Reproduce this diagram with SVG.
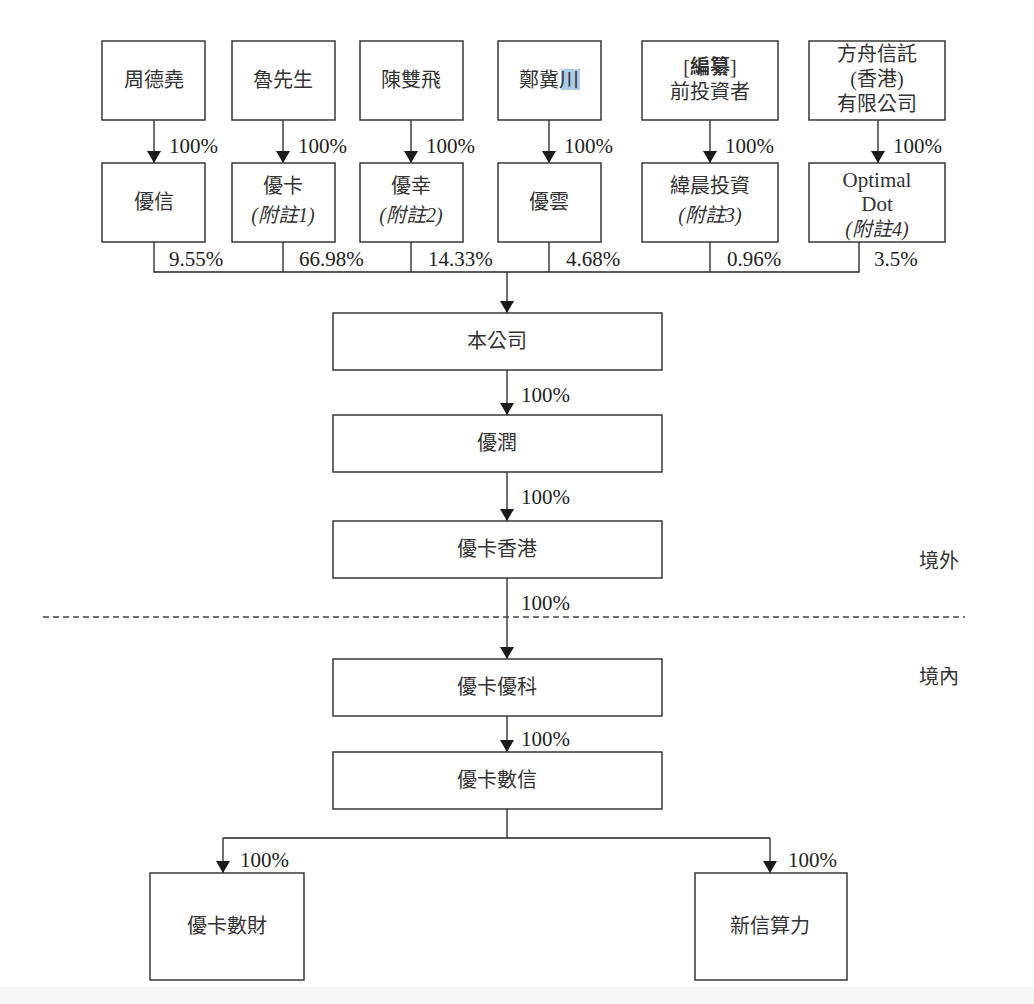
<svg xmlns="http://www.w3.org/2000/svg" width="1034" height="1004" viewBox="0 0 1034 1004">
<style>
.box{fill:#fff;stroke:#2a2a2a;stroke-width:1.4}
.ln{fill:none;stroke:#222;stroke-width:1.3}
.t{font-family:"Liberation Serif","Noto Sans CJK TC",serif;font-size:20px;fill:#333;text-anchor:middle}
.p{font-family:"Liberation Serif","Noto Sans CJK TC",serif;font-size:21px;fill:#222}
.i{font-style:italic}
.lat{font-size:21px}
</style>
<defs>
<marker id="ah" viewBox="0 0 12 14" refX="12" refY="7" markerWidth="12" markerHeight="14" markerUnits="userSpaceOnUse" orient="auto">
<path d="M0,0 L12,7 L0,14 z" fill="#1a1a1a"/>
</marker>
</defs>
<rect x="0" y="0" width="1034" height="1004" fill="#fff"/>
<rect x="0" y="987" width="1034" height="17" fill="#f7f7f7"/>

<g id="connectors">
<line class="ln" x1="154" y1="120" x2="154" y2="163" marker-end="url(#ah)"/>
<line class="ln" x1="283" y1="120" x2="283" y2="163" marker-end="url(#ah)"/>
<line class="ln" x1="411" y1="120" x2="411" y2="163" marker-end="url(#ah)"/>
<line class="ln" x1="549" y1="120" x2="549" y2="163" marker-end="url(#ah)"/>
<line class="ln" x1="710" y1="120" x2="710" y2="163" marker-end="url(#ah)"/>
<line class="ln" x1="878" y1="120" x2="878" y2="163" marker-end="url(#ah)"/>
<path class="ln" d="M154,242 V272 H859 V242 M283,242 V272 M411,242 V272 M549,242 V272 M710,242 V272"/>
<line class="ln" x1="507" y1="272" x2="507" y2="313" marker-end="url(#ah)"/>
<line class="ln" x1="507" y1="370" x2="507" y2="415" marker-end="url(#ah)"/>
<line class="ln" x1="507" y1="472" x2="507" y2="521" marker-end="url(#ah)"/>
<line class="ln" x1="507" y1="578" x2="507" y2="659" marker-end="url(#ah)"/>
<line class="ln" x1="507" y1="716" x2="507" y2="752" marker-end="url(#ah)"/>
<path class="ln" d="M507,809 V838 M223,838 H770"/>
<line class="ln" x1="223" y1="838" x2="223" y2="873" marker-end="url(#ah)"/>
<line class="ln" x1="770" y1="838" x2="770" y2="873" marker-end="url(#ah)"/>
<line x1="43" y1="617" x2="965" y2="617" stroke="#444" stroke-width="1.3" stroke-dasharray="6,4"/>
<text class="p" x="169" y="153">100%</text>
<text class="p" x="298" y="153">100%</text>
<text class="p" x="426" y="153">100%</text>
<text class="p" x="564" y="153">100%</text>
<text class="p" x="725" y="153">100%</text>
<text class="p" x="893" y="153">100%</text>
<text class="p" x="169" y="266">9.55%</text>
<text class="p" x="299" y="266">66.98%</text>
<text class="p" x="428" y="266">14.33%</text>
<text class="p" x="566" y="266">4.68%</text>
<text class="p" x="727" y="266">0.96%</text>
<text class="p" x="874" y="266">3.5%</text>
<text class="p" x="521" y="402">100%</text>
<text class="p" x="521" y="504">100%</text>
<text class="p" x="521" y="610">100%</text>
<text class="p" x="521" y="746">100%</text>
<text class="p" x="240" y="867">100%</text>
<text class="p" x="788" y="867">100%</text>
</g>

<g id="n-zhou"><rect class="box" x="102" y="41" width="103" height="79"/><text class="t" x="154" y="87">周德堯</text></g>
<g id="n-lu"><rect class="box" x="232" y="41" width="103" height="79"/><text class="t" x="283" y="87">魯先生</text></g>
<g id="n-chen"><rect class="box" x="360" y="41" width="103" height="79"/><text class="t" x="411" y="87">陳雙飛</text></g>
<g id="n-zheng"><rect class="box" x="498" y="41" width="103" height="79"/><rect x="561" y="69" width="19" height="21" fill="#a9cde6"/><text class="t" x="549" y="87">鄭冀川</text></g>
<g id="n-pre"><rect class="box" x="642" y="41" width="136" height="79"/><text class="t" x="710" y="74">[<tspan font-weight="bold">編纂</tspan>]</text><text class="t" x="710" y="99">前投資者</text></g>
<g id="n-ark"><rect class="box" x="809" y="41" width="136" height="79"/><text class="t" x="877" y="61">方舟信託</text><text class="t" x="877" y="86">(香港)</text><text class="t" x="877" y="111">有限公司</text></g>

<g id="n-youxin"><rect class="box" x="102" y="163" width="103" height="79"/><text class="t" x="154" y="209">優信</text></g>
<g id="n-youka"><rect class="box" x="232" y="163" width="103" height="79"/><text class="t" x="283" y="193">優卡</text><text class="t i" x="283" y="222">(附註1)</text></g>
<g id="n-youxing"><rect class="box" x="360" y="163" width="103" height="79"/><text class="t" x="411" y="193">優幸</text><text class="t i" x="411" y="222">(附註2)</text></g>
<g id="n-youyun"><rect class="box" x="498" y="163" width="103" height="79"/><text class="t" x="549" y="209">優雲</text></g>
<g id="n-weichen"><rect class="box" x="642" y="163" width="136" height="79"/><text class="t" x="710" y="193">緯晨投資</text><text class="t i" x="710" y="222">(附註3)</text></g>
<g id="n-optimal"><rect class="box" x="809" y="163" width="136" height="79"/><text class="t lat" x="877" y="187">Optimal</text><text class="t lat" x="877" y="211">Dot</text><text class="t i" x="877" y="236">(附註4)</text></g>

<g id="n-company"><rect class="box" x="333" y="313" width="329" height="57"/><text class="t" x="497" y="348">本公司</text></g>
<g id="n-yourun"><rect class="box" x="333" y="415" width="329" height="57"/><text class="t" x="497" y="450">優潤</text></g>
<g id="n-hk"><rect class="box" x="333" y="521" width="329" height="57"/><text class="t" x="497" y="556">優卡香港</text></g>
<g id="n-youke"><rect class="box" x="333" y="659" width="329" height="57"/><text class="t" x="497" y="694">優卡優科</text></g>
<g id="n-shuxin"><rect class="box" x="333" y="752" width="329" height="57"/><text class="t" x="497" y="787">優卡數信</text></g>
<g id="n-shucai"><rect class="box" x="150" y="873" width="154" height="107"/><text class="t" x="227" y="933">優卡數財</text></g>
<g id="n-suanli"><rect class="box" x="695" y="873" width="152" height="107"/><text class="t" x="770" y="933">新信算力</text></g>

<g id="labels">
<text class="t" x="939" y="568">境外</text>
<text class="t" x="939" y="684">境內</text>
</g>
</svg>
